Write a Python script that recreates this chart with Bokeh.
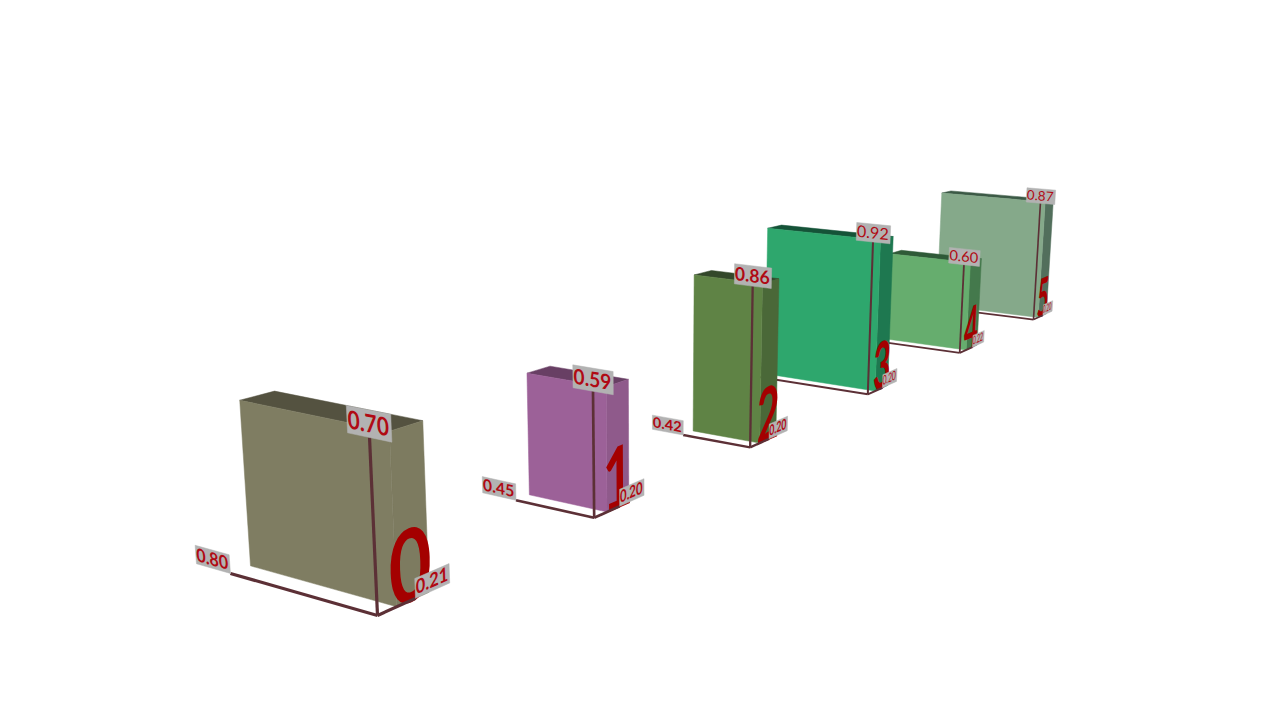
from bokeh.plotting import figure
from bokeh.models import CustomJS
from bokeh.core.properties import value
from bokeh.io import curdoc
from bokeh.embed import file_html
from bokeh.resources import INLINE

# data
names = ["0", "1", "2", "3", "4", "5"]
widths = [0.80, 0.45, 0.42, 0.77, 0.60, 0.83]
heights = [0.70, 0.59, 0.86, 0.92, 0.60, 0.87]
depths = [0.21, 0.20, 0.20, 0.20, 0.22, 0.20]
fronts = ["#7f7d62", "#9c6198", "#5f8345", "#2ea76d", "#66ad6e", "#85a98a"]
tops = ["#545240", "#683f64", "#33472a", "#155338", "#2f5a38", "#3c5a46"]
sides = ["#7d7b60", "#8f5a8b", "#4a6838", "#1e7850", "#44794c", "#526f5c"]

# camera: homogeneous projection of (X leftwards, Y up, Z away)
SPACING = 1.39
CAM_U = (377.0, -164.7, -26.3, 239.0)
CAM_V = (615.0, -4.83, -272.0, 2.1)
CAM_W = (1.0, 0.0833, -0.0404, 0.14)


def proj(x, y, z):
    w = CAM_W[0] + CAM_W[1] * x + CAM_W[2] * y + CAM_W[3] * z
    return ((CAM_U[0] + CAM_U[1] * x + CAM_U[2] * y + CAM_U[3] * z) / w,
            (CAM_V[0] + CAM_V[1] * x + CAM_V[2] * y + CAM_V[3] * z) / w)


def scale(x, y, z):
    return 1.0 / (CAM_W[0] + CAM_W[1] * x + CAM_W[2] * y + CAM_W[3] * z)


p = figure(width=1264, height=704, x_range=(0, 1264), y_range=(704, 0),
           output_backend="svg", toolbar_location=None, min_border=0,
           outline_line_color=None, background_fill_color="white",
           border_fill_color="white")
p.axis.visible = False
p.grid.visible = False

# one entry per text, in drawing order: where its plane puts it on screen
placements = []


def quad(corners, color):
    pts = [proj(*c) for c in corners]
    p.patch([q[0] for q in pts], [q[1] for q in pts], fill_color=color, line_color=color, line_width=0.5)


def plane_text(text, centre, du, dv, em, color, style):
    # du, dv: world vectors spanned by the text's advance width and its digit height
    a = proj(centre[0] - du[0] / 2, centre[1] - du[1] / 2, centre[2] - du[2] / 2)
    b = proj(centre[0] + du[0] / 2, centre[1] + du[1] / 2, centre[2] + du[2] / 2)
    c = proj(centre[0] - dv[0] / 2, centre[1] - dv[1] / 2, centre[2] - dv[2] / 2)
    d = proj(centre[0] + dv[0] / 2, centre[1] + dv[1] / 2, centre[2] + dv[2] / 2)
    cx, cy = proj(*centre)
    placements.append([cx, cy, b[0] - a[0], b[1] - a[1], d[0] - c[0], d[1] - c[1], 0.72 * em])
    p.text([cx], [cy], text=[text], text_align="center", text_baseline="middle",
           text_font=value("Lato"), text_font_style=style,
           text_font_size=f"{em:.1f}px", text_color=color)


def label(text, origin, along, w, h, fill, style):
    # grey plate starting at origin, running w along the unit world vector `along`, h upwards
    o = origin
    e = (o[0] + along[0] * w, o[1] + along[1] * w, o[2] + along[2] * w)
    quad([o, e, (e[0], e[1] + h, e[2]), (o[0], o[1] + h, o[2])], "#b2b2b2")
    centre = ((o[0] + e[0]) / 2, o[1] + h / 2, (o[2] + e[2]) / 2)
    plane_text(text, centre, (along[0] * w * 0.94, along[1] * w * 0.94, along[2] * w * 0.94),
               (0, h * fill, 0), 20, "#b00a14", style)


for i in reversed(range(len(names))):
    w, h, d = widths[i], heights[i], depths[i]
    z0 = i * SPACING
    z1, z2 = z0 + d / 2, z0 + d / 2 + d * 0.87
    # box
    quad([(0, h, z1), (w, h, z1), (w, h, z2), (0, h, z2)], tops[i])
    quad([(0, 0, z1), (0, 0, z2), (0, h, z2), (0, h, z1)], sides[i])
    quad([(0, 0, z1), (w, 0, z1), (w, h, z1), (0, h, z1)], fronts[i])
    # digit on the side plane
    plane_text(names[i], (0, 0.14, z0 + 0.19), (0, 0, 0.24), (0, 0.295, 0), 96, "#a40000", "bold")
    # axes
    for a, b in [((0, 0, z0), (w, 0, z0)), ((0, 0, z0), (0, h, z0)), ((0, 0, z0), (0, 0, z0 + d))]:
        A, B = proj(*a), proj(*b)
        p.line([A[0], B[0]], [A[1], B[1]], line_color="#5c3036", line_width=3.2 * scale(*a))
    # value plates
    style = "bold" if i < 3 else "normal"
    label(f"{w:.2f}", (w + 0.20, 0, z0), (-1, 0, 0), 0.20, 0.08, 0.72, style)
    label(f"{h:.2f}", (0.11, h, z0), (-1, 0, 0), 0.22, 0.105, 0.66, style)
    label(f"{d:.2f}", (0, 0, z0 + d), (0, 0, 1), 0.20, 0.082, 0.72, style)

settle = CustomJS(args=dict(m=placements), code="""
function walk(root, out) {
  for (const el of root.querySelectorAll('*')) {
    if (el.tagName.toLowerCase() === 'text') out.push(el)
    if (el.shadowRoot) walk(el.shadowRoot, out)
  }
}
function apply() {
  const t = []
  walk(document, t)
  if (t.length < m.length) return
  const k = Math.round(t.length / m.length)
  t.forEach((el, i) => {
    const q = m[Math.floor(i / k)]
    if (!q) return
    const b = el.getBBox()
    const A = q[2] / b.width, B = q[3] / b.width
    const C = -q[4] / q[6], D = -q[5] / q[6]
    const x0 = b.x + b.width / 2, y0 = parseFloat(el.getAttribute('y')) - q[6] / 2
    const E = q[0] - A * x0 - C * y0, F = q[1] - B * x0 - D * y0
    el.setAttribute('transform', `matrix(${A} ${B} ${C} ${D} ${E} ${F})`)
  })
}
let n = 0
const id = setInterval(() => { apply(); if (++n > 40) clearInterval(id) }, 50)
""")

doc = curdoc()
doc.add_root(p)
doc.js_on_event("document_ready", settle)

open("out.html", "w").write(file_html(p, INLINE))
